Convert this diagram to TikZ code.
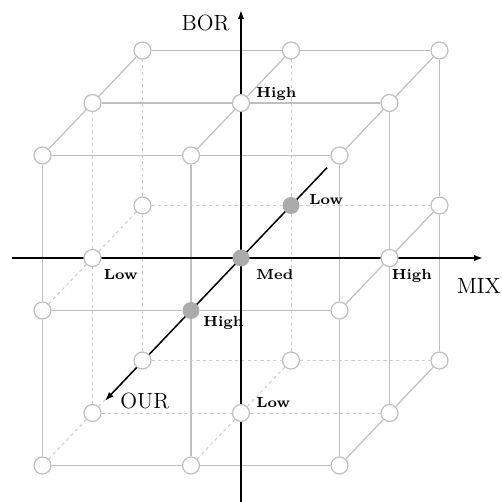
\documentclass[tikz,border=0pt]{standalone}
\usetikzlibrary{arrows.meta, positioning, backgrounds}

\begin{document}
\begin{tikzpicture}[
    x={(74.25pt,0pt)}, y={(0pt,77.5pt)}, z={(-25pt,-26.25pt)},
    knot/.style={circle, draw=gray!50, fill=white, line width=0.6pt, minimum size=8.5pt, inner sep=0pt},
    core/.style={circle, fill=gray!66, minimum size=8.5pt, inner sep=0pt},
    latt/.style={draw=gray!50, line width=0.6pt},
    hide/.style={draw=gray!40, line width=0.5pt, dash pattern=on 1.6pt off 1.6pt},
    axisline/.style={-{Latex[length=4.5pt,width=3.2pt]}, line width=0.75pt, draw=black},
    level/.style={font=\fontsize{7.3}{9}\selectfont\bfseries, inner sep=1pt},
    axlbl/.style={font=\fontsize{11}{13}\selectfont, inner sep=1pt}
]
    \useasboundingbox (-120.5pt,-122pt) rectangle (130.5pt,129pt);

    % axes
    \coordinate (mixL) at (-1.54,0,0);
    \coordinate (mixR) at (1.63,0,0);
    \coordinate (borB) at (0,-1.574,0);
    \coordinate (borT) at (0,1.6,0);
    \coordinate (ourB) at (0,0,-1.72);
    \coordinate (ourF) at (0,0,2.72);
    \draw[axisline] (mixL) -- (mixR);
    \draw[axisline] (borB) -- (borT);
    \draw[axisline] (ourB) -- (ourF);

    % 3x3x3 lattice, v<x><y><z>, z=2 is the front
    \foreach \i/\j in {0/0,0/1,0/2,1/0,1/2,2/0,2/1,2/2}
        \foreach \k in {0,1,2}
            \node[knot] (v\i\j\k) at (\i-1,\j-1,\k-1) {};
    \foreach \k in {0,1,2}
        \node[core] (v11\k) at (0,0,\k-1) {};

    \begin{scope}[on background layer]
        \foreach \p/\q in {2/0,2/1,2/2,0/2,1/2} {
            \draw[latt] (v0\p\q) -- (v1\p\q) -- (v2\p\q);
            \draw[latt] (v\p0\q) -- (v\p1\q) -- (v\p2\q);
            \draw[latt] (v\p\q0) -- (v\p\q1) -- (v\p\q2);
        }
        \foreach \p/\q in {0/0,0/1,1/0} {
            \draw[hide] (v0\p\q) -- (v1\p\q) -- (v2\p\q);
            \draw[hide] (v\p0\q) -- (v\p1\q) -- (v\p2\q);
            \draw[hide] (v\p\q0) -- (v\p\q1) -- (v\p\q2);
        }
    \end{scope}

    % levels
    \node[level, anchor=south west] (borHigh) at ([xshift=6.5pt]v121.center) {High};
    \node[level, anchor=south west] (borLow) at ([shift={(6.5pt,1.5pt)}]v101.center) {Low};
    \node[level, anchor=north west] (mixLow) at ([shift={(4.5pt,-4.5pt)}]v011.center) {Low};
    \node[level, anchor=north west] (allMed) at ([shift={(6.5pt,-4.5pt)}]v111.center) {Med};
    \node[level, anchor=north west] (mixHigh) at ([yshift=-4.5pt]v211.center) {High};
    \node[level, anchor=south west] (ourLow) at ([shift={(8pt,-0.5pt)}]v110.center) {Low};
    \node[level, anchor=north west] (ourHigh) at ([shift={(5pt,-1.5pt)}]v112.center) {High};

    % axis names
    \node[axlbl, below left=1.5pt and 4.5pt of borT] (borName) {BOR};
    \node[axlbl, below=9pt of mixR, xshift=-2pt] (mixName) {MIX};
    \node[axlbl, right=6.5pt of ourF] (ourName) {OUR};
\end{tikzpicture}
\end{document}
